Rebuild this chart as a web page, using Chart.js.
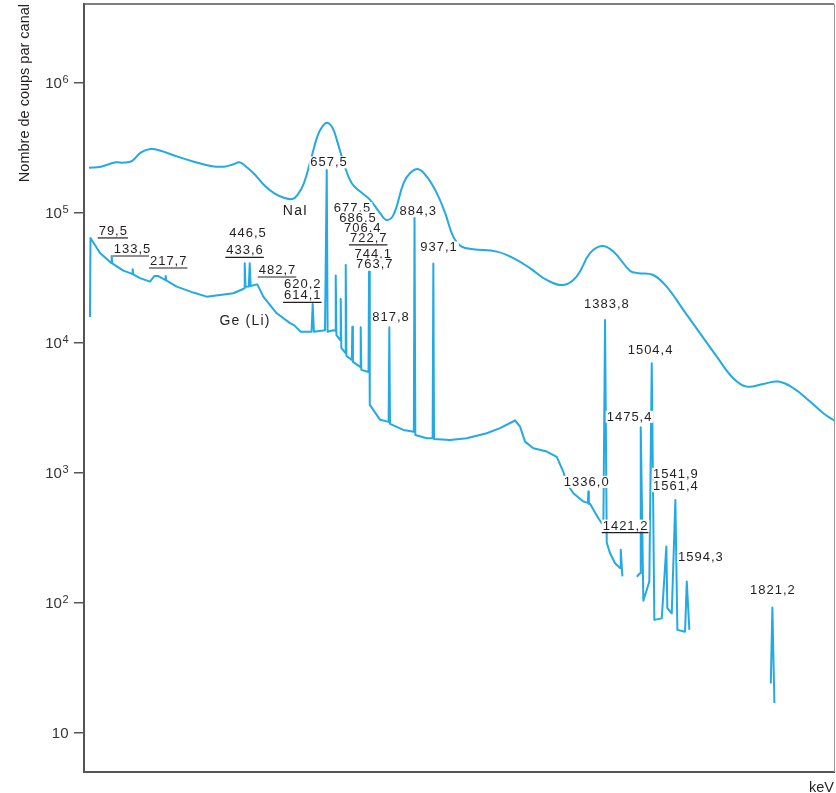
<!DOCTYPE html>
<html lang="fr">
<head>
<meta charset="utf-8">
<title>Spectre gamma NaI / Ge(Li)</title>
<script src="https://cdn.jsdelivr.net/npm/chart.js@4/dist/chart.umd.min.js"></script>
<style>
	html, body { margin:0; padding:0; background:#fff; }
	canvas { display:block; }
</style>
</head>
<body>
<canvas id="spectrum" width="836" height="793"></canvas>
<script>
// Spectre gamma : NaI vs Ge(Li), coups par canal (log) en fonction de l'énergie (keV)

// --- NaI (courbe lisse)
const naiKeV = [36, 67, 106, 127, 149, 171, 197, 223, 267, 310,
	354, 389, 415, 428, 441, 467, 493, 519, 545, 567,
	580, 597, 615, 632, 645, 658, 672, 683, 704, 722,
	744, 770, 796, 813, 831, 857, 874, 896, 918, 944,
	966, 987, 1009, 1039, 1101, 1144, 1188, 1231, 1274, 1309,
	1344, 1375, 1405, 1449, 1470, 1509, 1544, 1588, 1631, 1675,
	1718, 1753, 1797, 1836, 1875, 1919, 1953, 1986];
const naiCounts = [223000, 227000, 245000, 244000, 252000, 291000, 310000, 301000, 271000, 248000,
	230000, 227000, 238000, 245000, 234000, 200000, 164000, 142000, 131000, 128000,
	137000, 169000, 256000, 386000, 462000, 495000, 450000, 365000, 227000, 169000,
	146000, 126000, 99500, 88400, 96600, 169000, 202000, 217000, 190000, 142000,
	99500, 65800, 55100, 52600, 50400, 44900, 37500, 30500, 27900, 32400,
	49000, 55700, 50400, 35800, 34400, 33300, 27100, 17900, 11900, 7840,
	5350, 4610, 4840, 5040, 4490, 3530, 2880, 2480];

// --- Ge(Li) : partie principale (jusqu'à ~1428 keV)
const geKeV = [38.6, 39.9, 64.8, 92.7, 94.0, 95.3, 96.6, 125.6, 148.8, 150.1,
	151.4, 169.2, 195.3, 206.5, 217.0, 235.0, 236.3, 237.6, 265.0, 308.4,
	343.3, 378.1, 412.8, 438.9, 441.2, 442.6, 444.7, 453.3, 455.6, 458.0,
	475.5, 491.1, 526.1, 560.8, 571.3, 588.8, 617.0, 620.1, 623.2, 652.2,
	654.3, 656.7, 659.0, 673.1, 678.9, 680.2, 682.0, 691.9, 693.2, 694.8,
	705.0, 706.3, 708.1, 722.2, 723.5, 725.1, 744.1, 745.4, 747.0, 765.8,
	767.1, 769.1, 796.2, 818.3, 820.1, 821.9, 856.7, 884.1, 885.9, 888.0,
	917.8, 933.2, 935.0, 936.8, 978.6, 1022.2, 1074.4, 1109.2, 1148.3, 1161.4,
	1174.4, 1196.1, 1231.1, 1257.2, 1274.4, 1283.3, 1300.5, 1326.6, 1338.4, 1339.7,
	1341.0, 1344.1, 1365.8, 1374.7, 1378.9, 1383.3, 1387.7, 1396.3, 1409.4, 1422.5,
	1424.3, 1428.5];
const geCounts = [15800, 64200, 49200, 41500, 41200, 46700, 40900, 36000, 34000, 36900,
	33700, 31500, 29600, 32700, 32700, 30500, 32700, 30300, 27100, 24400,
	22700, 23400, 24100, 26000, 26300, 41000, 27000, 27200, 41000, 27400,
	28200, 22700, 16900, 14200, 13700, 12200, 12200, 19900, 12200, 12500,
	12500, 214000, 12200, 12500, 12400, 33000, 11500, 10500, 21800, 9150,
	8380, 39800, 7940, 7400, 13300, 7140, 6540, 13200, 6200, 5980,
	35400, 3340, 2560, 2470, 13200, 2380, 2140, 2070, 93700, 1960,
	1850, 1850, 40900, 1820, 1790, 1850, 2020, 2210, 2530, 2270,
	1740, 1550, 1460, 1330, 1020, 833, 698, 602, 588, 718,
	580, 578, 448, 410, 398, 15000, 290, 241, 202, 185,
	256, 160];

// --- Ge(Li) : raies 1475 - 1594 keV
const geHighKeV = [1466.1, 1474.7, 1476.5, 1483.3, 1498.9, 1505.2, 1512.0, 1531.3, 1543.3, 1545.9,
	1557.4, 1566.9, 1572.1, 1592.2, 1596.6, 1603.4];
const geHighCounts = [159, 169, 2250, 104, 146, 6980, 74, 76, 271, 91,
	83, 620, 62, 60, 146, 62];

// --- Ge(Li) : raie 1821,2 keV
const geLastKeV = [1816.0, 1820.1, 1825.4];
const geLastCounts = [24, 92, 17];

// --- axes
const yTickValues = [10, 100, 1000, 10000, 100000, 1000000];
const xRange = [23, 1981];
const yRange = [5.0, 4.05e6];

// --- étiquettes des raies (position en keV / coups)
const peakLabels = [
	{ text:'79,5', keV:99.5, counts:72700, underline:true },
	{ text:'133,5', keV:149.6, counts:52800, underline:true },
	{ text:'217,7', keV:244.1, counts:42700, underline:true },
	{ text:'446,5', keV:451.2, counts:70800 },
	{ text:'433,6', keV:443.4, counts:51500, underline:true },
	{ text:'482,7', keV:528.2, counts:36400, underline:true },
	{ text:'620,2', keV:594.3, counts:28400 },
	{ text:'614,1', keV:594.3, counts:23200, underline:true },
	{ text:'657,5', keV:662.7, counts:245000 },
	{ text:'677,5', keV:724.0, counts:109000 },
	{ text:'686,5', keV:738.4, counts:92300 },
	{ text:'706,4', keV:750.9, counts:76700 },
	{ text:'722,7', keV:766.3, counts:64200, underline:true },
	{ text:'744,1', keV:778.3, counts:48800 },
	{ text:'763,7', keV:782.0, counts:40200 },
	{ text:'817,8', keV:824.6, counts:15800 },
	{ text:'884,3', keV:895.8, counts:103000 },
	{ text:'937,1', keV:949.9, counts:54300 },
	{ text:'1383,8', keV:1388.0, counts:20100 },
	{ text:'1504,4', keV:1502.1, counts:8910 },
	{ text:'1475,4', keV:1447.3, counts:2700 },
	{ text:'1336,0', keV:1335.5, counts:853 },
	{ text:'1541,9', keV:1568.2, counts:986 },
	{ text:'1561,4', keV:1568.2, counts:791 },
	{ text:'1421,2', keV:1436.8, counts:393, underline:true },
	{ text:'1594,3', keV:1633.4, counts:226 },
	{ text:'1821,2', keV:1821.5, counts:125 },
	{ text:'NaI', keV:575.2, counts:104500, big:true },
	{ text:'Ge (Li)', keV:443.4, counts:14800, big:true }
];

const LINE_COLOR = '#23a9e3';
const TEXT_COLOR = '#231f20';
const AXIS_COLOR = '#555555';
const FONT = '"Liberation Sans", Arial, sans-serif';

function toPoints(xs, ys){
	return xs.map((x, i) => ({ x, y: ys[i] }));
}

function geDataset(label, xs, ys){
	return {
		label,
		data: toPoints(xs, ys),
		borderColor: LINE_COLOR,
		borderWidth: 2,
		pointRadius: 0,
		tension: 0,
		borderJoinStyle: 'round'
	};
}

// tick labels as 10 + superscript exponent
const tickLabelPlugin = {
	id: 'powerTicks',
	afterDraw(chart){
		const { ctx, chartArea, scales: { y } } = chart;
		const right = chartArea.left - 15.5;
		ctx.save();
		ctx.fillStyle = '#333';
		yTickValues.forEach(v => {
			const py = y.getPixelForValue(v);
			const e = Math.round(Math.log10(v));
			ctx.textAlign = 'right';
			if(e === 1){
				ctx.font = '15px ' + FONT;
				ctx.textBaseline = 'middle';
				ctx.fillText('10', right, py + 0.5);
				return;
			}
			ctx.font = '11px ' + FONT;
			ctx.textBaseline = 'alphabetic';
			const ew = ctx.measureText(String(e)).width;
			ctx.fillText(String(e), right, py + 0.5);
			ctx.font = '15px ' + FONT;
			ctx.textBaseline = 'middle';
			ctx.fillText('10', right - ew - 0.5, py + 0.5);
		});
		ctx.restore();
	}
};

const labelPlugin = {
	id: 'peakLabels',
	afterDatasetsDraw(chart){
		const { ctx, scales: { x, y } } = chart;
		ctx.save();
		ctx.textAlign = 'center';
		ctx.textBaseline = 'middle';
		peakLabels.forEach(l => {
			const px = x.getPixelForValue(l.keV);
			const py = y.getPixelForValue(l.counts);
			ctx.font = (l.big ? '14px ' : '13px ') + FONT;
			ctx.letterSpacing = l.big ? '1.2px' : '1px';
			const w = ctx.measureText(l.text).width;
			ctx.fillStyle = '#fff';
			ctx.fillRect(px - w / 2 - 1, py - 6, w + 2, 12);
			ctx.fillStyle = TEXT_COLOR;
			ctx.fillText(l.text, px, py + 0.5);
			if(l.underline){
				ctx.strokeStyle = TEXT_COLOR;
				ctx.lineWidth = 1.2;
				ctx.beginPath();
				ctx.moveTo(px - w / 2 - 1, py + 7);
				ctx.lineTo(px + w / 2, py + 7);
				ctx.stroke();
			}
		});
		ctx.restore();
	}
};

const framePlugin = {
	id: 'frame',
	afterDraw(chart){
		const { ctx, chartArea: a } = chart;
		ctx.save();
		ctx.strokeStyle = AXIS_COLOR;
		ctx.lineWidth = 1.5;
		ctx.beginPath();
		ctx.moveTo(a.left, a.top);
		ctx.lineTo(a.right, a.top);
		ctx.stroke();
		ctx.strokeStyle = '#9a9a9a';
		ctx.lineWidth = 1;
		ctx.beginPath();
		ctx.moveTo(a.right + 0.5, a.top);
		ctx.lineTo(a.right + 0.5, a.bottom);
		ctx.stroke();
		ctx.restore();
	}
};

new Chart(document.getElementById('spectrum'), {
	type: 'line',
	data: {
		datasets: [
			{
				label: 'NaI',
				data: toPoints(naiKeV, naiCounts),
				borderColor: LINE_COLOR,
				borderWidth: 2,
				pointRadius: 0,
				tension: 0.4
			},
			geDataset('Ge (Li)', geKeV, geCounts),
			geDataset('Ge (Li) 1475-1594', geHighKeV, geHighCounts),
			geDataset('Ge (Li) 1821', geLastKeV, geLastCounts)
		]
	},
	options: {
		responsive: false,
		devicePixelRatio: 1,
		animation: false,
		layout: { padding: { top: 4, right: 2, left: 0, bottom: 0 } },
		plugins: {
			legend: { display: false },
			tooltip: { enabled: false }
		},
		scales: {
			x: {
				type: 'linear',
				min: xRange[0],
				max: xRange[1],
				ticks: { display: false },
				grid: { display: false },
				border: { display: true, color: AXIS_COLOR, width: 2 },
				title: {
					display: true,
					text: 'keV',
					align: 'end',
					color: TEXT_COLOR,
					font: { family: FONT, size: 14.5, lineHeight: 1 },
					padding: { top: 0, bottom: -2 }
				},
				afterFit(scale){
					scale.height = 21;
					scale.paddingLeft = 0; scale.paddingRight = 0;
				}
			},
			y: {
				type: 'logarithmic',
				min: yRange[0],
				max: yRange[1],
				afterBuildTicks(scale){
					scale.ticks = yTickValues.map(v => ({ value: v }));
				},
				ticks: { display: false, autoSkip: false },
				grid: {
					display: true,
					drawOnChartArea: false,
					drawTicks: true,
					tickLength: 10,
					color: AXIS_COLOR,
					lineWidth: 1.5
				},
				border: { display: true, color: AXIS_COLOR, width: 2 },
				title: {
					display: true,
					text: 'Nombre de coups par canal',
					align: 'end',
					color: TEXT_COLOR,
					font: { family: FONT, size: 14.5 },
					padding: { top: 16, bottom: 0 }
				},
				afterFit(scale){
					scale.width = 84;
					scale.paddingTop = 0; scale.paddingBottom = 0;
				}
			}
		}
	},
	plugins: [labelPlugin, framePlugin, tickLabelPlugin]
});
</script>
</body>
</html>
